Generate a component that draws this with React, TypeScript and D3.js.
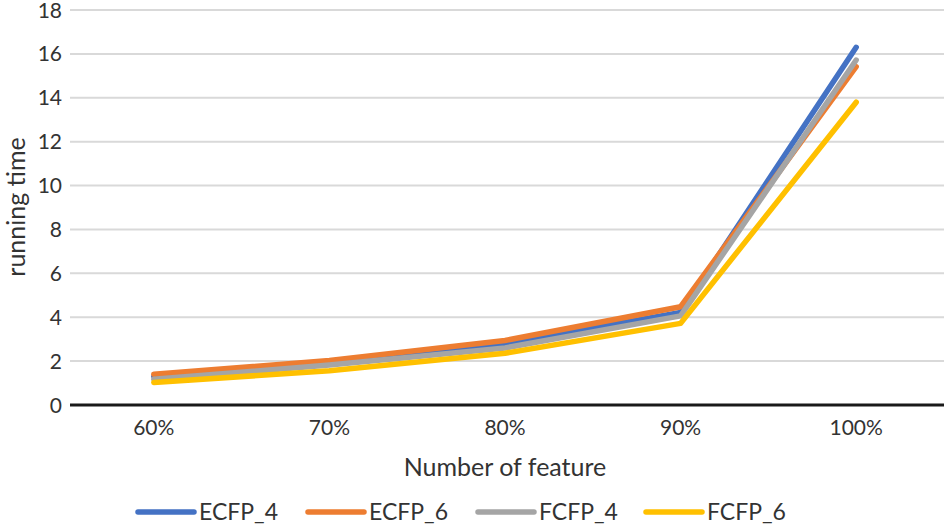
import React from "react";
import * as d3 from "d3";

const categories = ["60%", "70%", "80%", "90%", "100%"];
const seriesNames = ["ECFP_4", "ECFP_6", "FCFP_4", "FCFP_6"];
const ecfp4 = [1.3, 1.95, 2.8, 4.22, 16.3];
const ecfp6 = [1.4, 2.03, 2.94, 4.48, 15.42];
const fcfp4 = [1.17, 1.82, 2.6, 4.06, 15.72];
const fcfp6 = [1.03, 1.56, 2.36, 3.72, 13.8];
const yTicks = [0, 2, 4, 6, 8, 10, 12, 14, 16, 18];
const colors = ["#4472C4", "#ED7D31", "#A5A5A5", "#FFC000"];
const seriesValues = [ecfp4, ecfp6, fcfp4, fcfp6];

const W = 944;
const H = 526;
const FONT = "Lato, 'Open Sans', sans-serif";
const TEXT = "#333333";

export default function App() {
  const x = d3.scaleBand<string>().domain(categories).range([66, 944]).padding(0);
  const y = d3.scaleLinear().domain([0, 18]).range([405, 10]);
  const cx = (c: string) => (x(c) as number) + x.bandwidth() / 2;
  const line = d3
    .line<number>()
    .x((_, i) => cx(categories[i]))
    .y((v) => y(v));

  const legendX = [135, 305, 475, 643];

  return (
    <div style={{ position: "absolute", left: 0, top: 0, width: W, height: H, background: "#fff" }}>
      <svg width={W} height={H} style={{ display: "block" }} fontFamily={FONT}>
        <rect width={W} height={H} fill="#fff" />
        {yTicks.slice(1).map((t) => (
          <line key={t} x1={70} x2={944} y1={y(t)} y2={y(t)} stroke="#d9d9d9" strokeWidth={2} />
        ))}
        {yTicks.map((t) => (
          <text key={"l" + t} x={62} y={y(t)} dy="0.36em" textAnchor="end" fontSize={21} fill={TEXT}>
            {t}
          </text>
        ))}
        {seriesValues.map((vals, i) => (
          <path
            key={seriesNames[i]}
            d={line(vals) || ""}
            fill="none"
            stroke={colors[i]}
            strokeWidth={5.5}
            strokeLinecap="round"
            strokeLinejoin="round"
          />
        ))}
        <line x1={70} x2={944} y1={y(0)} y2={y(0)} stroke="#1a1a1a" strokeWidth={3} />
        {categories.map((c) => (
          <text key={c} x={cx(c)} y={435} textAnchor="middle" fontSize={21} fill={TEXT}>
            {c}
          </text>
        ))}
        <text x={505} y={476} textAnchor="middle" fontSize={25} fill={TEXT}>
          Number of feature
        </text>
        <text
          transform={`translate(25,207) rotate(-90)`}
          textAnchor="middle"
          fontSize={25}
          fill={TEXT}
        >
          running time
        </text>
        {seriesNames.map((n, i) => (
          <g key={"lg" + n}>
            <line
              x1={legendX[i] + 3}
              x2={legendX[i] + 59}
              y1={512}
              y2={512}
              stroke={colors[i]}
              strokeWidth={5.5}
              strokeLinecap="round"
            />
            <text x={legendX[i] + 64} y={512} dy="0.36em" fontSize={23} fill={TEXT}>
              {n}
            </text>
          </g>
        ))}
      </svg>
    </div>
  );
}
